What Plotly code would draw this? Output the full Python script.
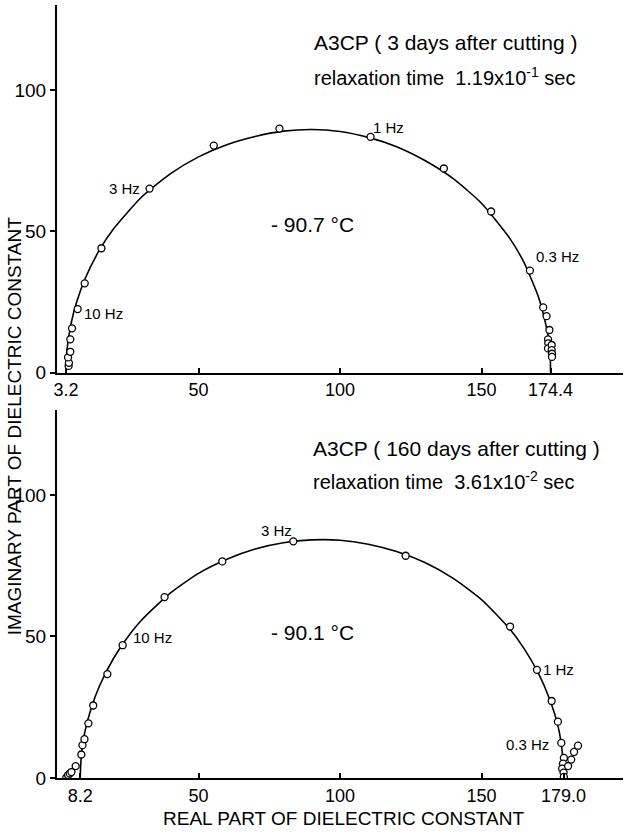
import plotly.graph_objects as go

# ---- top panel: A3CP, 3 days after cutting, -90.7 C ----
top_pts_x = [4.1, 4.2, 3.9, 4.7, 4.7, 5.3, 7.3, 9.8, 15.7, 32.7, 55.4, 78.6,
             110.8, 136.7, 153.4, 167.1, 171.8, 173.0, 174.0, 173.5, 173.6,
             173.5, 174.8, 174.8, 174.9, 174.9]
top_pts_y = [2.4, 3.5, 5.4, 7.4, 11.8, 15.7, 22.5, 31.6, 44.0, 65.1, 80.3, 86.3,
             83.4, 72.2, 57.0, 36.1, 23.1, 20.0, 15.1, 11.8, 10.4,
             8.6, 9.8, 8.0, 6.7, 5.6]

top_curve_x = [3.2, 3.5, 5, 7, 10, 15, 20, 30, 40, 50, 60, 70, 80, 90, 100,
               110, 120, 130, 140, 150, 160, 165, 170, 172, 173.8, 174.3, 174.4]
top_curve_y = [0, 8.0, 17.5, 25.2, 33.4, 43.4, 50.9, 62.2, 70.3, 76.3, 80.6,
               83.5, 85.4, 86.0, 85.3, 83.2, 79.9, 75.0, 68.6, 59.9, 47.5,
               39.0, 27.1, 20.1, 11.5, 6.0, 0]

# ---- bottom panel: A3CP, 160 days after cutting, -90.1 C ----
bot_pts_x = [3.3, 3.9, 4.5, 5.1, 6.6, 8.6, 9.0, 9.7, 11.1, 12.8, 17.8, 23.2,
             38.0, 58.4, 83.5, 123.2, 160.1, 169.6, 174.8, 177.0, 178.2,
             179.1, 178.8, 178.5, 179.0, 179.1, 180.6, 181.7, 182.7, 184.1]
bot_pts_y = [0.1, 1.0, 1.6, 2.1, 4.2, 8.3, 11.6, 13.7, 19.3, 25.6, 36.7, 46.9,
             63.9, 76.5, 83.6, 78.5, 53.5, 38.2, 27.2, 19.9, 12.4,
             7.1, 5.1, 3.3, 1.9, 0.4, 4.2, 6.5, 9.2, 11.4]

bot_curve_x = [8.2, 8.4, 9, 10, 12, 15, 20, 25, 30, 40, 50, 60, 70, 80, 90,
               100, 110, 120, 130, 140, 150, 160, 165, 170, 174, 177, 178.5,
               179.0]
bot_curve_y = [0, 5.0, 11.6, 17.0, 24.4, 32.5, 42.3, 49.8, 55.9, 65.3, 72.3,
               77.3, 80.9, 83.1, 84.1, 84.0, 82.6, 80.0, 76.1, 70.5, 63.0,
               52.6, 45.8, 37.2, 28.0, 18.5, 9.5, 0]

top_xticks = [3.2, 50, 100, 150, 174.4, 200]
top_xlabels = ["3.2", "50", "100", "150", "174.4", ""]
bot_xticks = [8.2, 50, 100, 150, 179.0, 200]
bot_xlabels = ["8.2", "50", "100", "150", "179.0", ""]
yticks = [0, 50, 100]

FONT = "Liberation Sans"

fig = go.Figure()

fig.add_trace(go.Scatter(x=top_curve_x, y=top_curve_y, mode="lines",
                         line=dict(color="black", width=1.6, shape="spline", smoothing=0.6),
                         xaxis="x", yaxis="y", showlegend=False))
fig.add_trace(go.Scatter(x=top_pts_x, y=top_pts_y, mode="markers",
                         marker=dict(symbol="circle", size=7, color="white",
                                     line=dict(color="black", width=1.3)),
                         xaxis="x", yaxis="y", showlegend=False))
fig.add_trace(go.Scatter(x=bot_curve_x, y=bot_curve_y, mode="lines",
                         line=dict(color="black", width=1.6, shape="spline", smoothing=0.6),
                         xaxis="x2", yaxis="y2", showlegend=False))
fig.add_trace(go.Scatter(x=bot_pts_x, y=bot_pts_y, mode="markers",
                         marker=dict(symbol="circle", size=7, color="white",
                                     line=dict(color="black", width=1.3)),
                         xaxis="x2", yaxis="y2", showlegend=False))

xax = dict(range=[0, 200], showgrid=False, zeroline=False, showline=True,
           linecolor="black", linewidth=2, ticks="inside", ticklen=5,
           tickwidth=1.5, tickcolor="black", tickfont=dict(family=FONT, size=18, color="black"))
yax = dict(range=[0, 130], showgrid=False, zeroline=False, showline=True,
           linecolor="black", linewidth=2, ticks="outside", ticklen=5,
           tickwidth=1.5, tickcolor="black", tickvals=yticks,
           tickfont=dict(family=FONT, size=19, color="black"))

fig.update_layout(
    width=624, height=835,
    margin=dict(l=57, r=1, t=5, b=57),
    paper_bgcolor="white", plot_bgcolor="white",
    xaxis=dict(xax, domain=[0, 1], anchor="y", tickvals=top_xticks, ticktext=top_xlabels),
    yaxis=dict(yax, domain=[0.5243, 1], anchor="x"),
    xaxis2=dict(xax, domain=[0, 1], anchor="y2", tickvals=bot_xticks, ticktext=bot_xlabels),
    yaxis2=dict(yax, domain=[0, 0.4761], anchor="x2"),
)

def note(text, x, y, ax="x", ay="y", size=15, xanchor="left"):
    fig.add_annotation(text=text, x=x, y=y, xref=ax, yref=ay, showarrow=False,
                       xanchor=xanchor, yanchor="middle",
                       font=dict(family=FONT, size=size, color="black"))

# top panel labels
note("A3CP ( 3 days after cutting )", 90.2, 116.7, size=21)
note("relaxation time  1.19x10<sup>-1</sup> sec", 90.2, 104.9, size=20)
note("- 90.7 °C", 90.4, 52.3, size=21, xanchor="center")
note("3 Hz", 30.0, 65.3, xanchor="right")
note("10 Hz", 8.7, 21.0)
note("1 Hz", 111.0, 86.6)
note("0.3 Hz", 168.4, 41.1)

# bottom panel labels
note("A3CP ( 160 days after cutting )", 89.9, 116.3, "x2", "y2", size=21)
note("relaxation time  3.61x10<sup>-2</sup> sec", 89.9, 105.0, "x2", "y2", size=20)
note("- 90.1 °C", 90.3, 51.3, "x2", "y2", size=21, xanchor="center")
note("3 Hz", 77.7, 87.3, "x2", "y2", xanchor="center")
note("10 Hz", 26.0, 49.7, "x2", "y2")
note("1 Hz", 171.0, 38.2, "x2", "y2")
note("0.3 Hz", 174.6, 11.9, "x2", "y2", xanchor="right")

# shared axis titles
fig.add_annotation(text="REAL PART OF DIELECTRIC CONSTANT", x=0.506, y=-0.053,
                   xref="paper", yref="paper", showarrow=False,
                   xanchor="center", yanchor="middle",
                   font=dict(family=FONT, size=19, color="black"))
fig.add_annotation(text="IMAGINARY PART OF DIELECTRIC CONSTANT", x=-0.076, y=0.455,
                   xref="paper", yref="paper", showarrow=False, textangle=-90,
                   xanchor="center", yanchor="middle",
                   font=dict(family=FONT, size=19, color="black"))

# page has a default body margin, drop it so the figure sits at 0,0
fig.write_html("out.html", config={"displayModeBar": False},
               post_script="document.body.style.margin='0px';")
